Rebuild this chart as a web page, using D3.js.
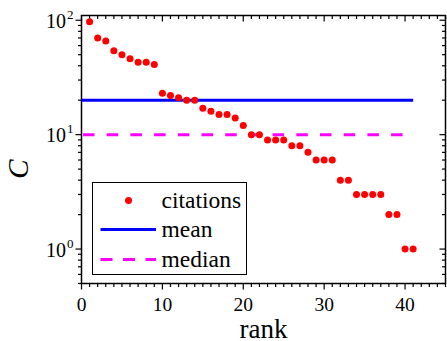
<!DOCTYPE html>
<html>
<head>
<meta charset="utf-8">
<script src="https://cdn.jsdelivr.net/npm/d3@7"></script>
<style>
  html, body { margin: 0; padding: 0; background: #fff; }
  svg { display: block; }
</style>
</head>
<body>
<svg id="chart" width="447" height="341" font-family="'Liberation Serif', serif"></svg>
<script>
// Citation counts ordered by rank
const ranks = d3.range(1, 42);
const citations = [97, 70, 66, 54, 50, 46, 43, 43, 41,
  23, 22, 21, 20, 20, 17, 16, 15, 15, 14, 12,
  10, 10, 9, 9, 9, 8, 8, 7, 6, 6, 6,
  4, 4, 3, 3, 3, 3, 2, 2, 1, 1];
const xTicks = [0, 10, 20, 30, 40];
const yTickExponents = [0, 1, 2];
const legendLabels = ["citations", "mean", "median"];

const meanValue = d3.mean(citations);
const medianValue = d3.median(citations);

const FONT = "Liberation Serif";
const svg = d3.select("#chart");
const m = { left: 81.5, top: 15.5, right: 1.5, bottom: 57.5 };
const W = 447 - m.left - m.right;
const H = 341 - m.top - m.bottom;
const g = svg.append("g").attr("transform", `translate(${m.left},${m.top})`);

const x = d3.scaleLinear().domain([0, 45]).range([0, W]);
const y = d3.scaleLog().domain([0.5, 110]).range([H, 0]);

// minor log ticks: 2..9 within each decade
const minorY = [];
for (let e = -1; e <= 2; e++) {
  for (let k = 2; k <= 9; k++) {
    const v = k * Math.pow(10, e);
    if (v >= 0.5 && v <= 110) minorY.push(v);
  }
}
const minorX = d3.range(0, 46).filter(v => v % 10 !== 0);

const tickGroup = g.append("g").attr("stroke", "#000").attr("stroke-width", 1.2);

// bottom (outward) and top (inward) ticks
xTicks.forEach(v => {
  tickGroup.append("line").attr("x1", x(v)).attr("x2", x(v)).attr("y1", H).attr("y2", H + 6);
  tickGroup.append("line").attr("x1", x(v)).attr("x2", x(v)).attr("y1", 0).attr("y2", 6);
});
minorX.forEach(v => {
  tickGroup.append("line").attr("x1", x(v)).attr("x2", x(v)).attr("y1", H).attr("y2", H + 3.5);
  tickGroup.append("line").attr("x1", x(v)).attr("x2", x(v)).attr("y1", 0).attr("y2", 3.5);
});
// left (outward) and right (inward) ticks
yTickExponents.forEach(e => {
  const v = Math.pow(10, e);
  tickGroup.append("line").attr("x1", -6).attr("x2", 0).attr("y1", y(v)).attr("y2", y(v));
  tickGroup.append("line").attr("x1", W - 6).attr("x2", W).attr("y1", y(v)).attr("y2", y(v));
});
minorY.forEach(v => {
  tickGroup.append("line").attr("x1", -3.5).attr("x2", 0).attr("y1", y(v)).attr("y2", y(v));
  tickGroup.append("line").attr("x1", W - 3.5).attr("x2", W).attr("y1", y(v)).attr("y2", y(v));
});

// frame
g.append("rect").attr("x", 0).attr("y", 0).attr("width", W).attr("height", H)
  .attr("fill", "none").attr("stroke", "#000").attr("stroke-width", 1.5);

// x tick labels
g.append("g").selectAll("text").data(xTicks).join("text")
  .attr("font-family", FONT)
  .attr("x", d => x(d)).attr("y", H + 27)
  .attr("text-anchor", "middle").attr("font-size", 19.5)
  .text(d => d);

// y tick labels as powers of ten
const yl = g.append("g").selectAll("text").data(yTickExponents).join("text")
  .attr("font-family", FONT)
  .attr("x", -8).attr("y", d => y(Math.pow(10, d)) + 7.5)
  .attr("text-anchor", "end").attr("font-size", 20);
yl.append("tspan").text("10");
yl.append("tspan").attr("font-size", 13).attr("dy", -9).attr("dx", 1).text(d => d);

// axis titles
g.append("text").attr("font-family", FONT).attr("x", W / 2).attr("y", H + 54.5)
  .attr("text-anchor", "middle").attr("font-size", 27).text("rank");
svg.append("text").attr("font-family", FONT).attr("transform", "translate(28,169) rotate(-90)")
  .attr("text-anchor", "middle").attr("font-size", 29).attr("font-style", "italic").text("C");

// reference lines
g.append("line").attr("x1", x(0)).attr("x2", x(41))
  .attr("y1", y(meanValue)).attr("y2", y(meanValue))
  .attr("stroke", "#0000ff").attr("stroke-width", 3);
g.append("line").attr("x1", x(0) + 1.5).attr("x2", x(41))
  .attr("y1", y(medianValue)).attr("y2", y(medianValue))
  .attr("stroke", "#ff00ff").attr("stroke-width", 3).attr("stroke-dasharray", "11.5,12.2");

// data points
g.append("g").selectAll("circle").data(ranks).join("circle")
  .attr("cx", d => x(d)).attr("cy", (d, i) => y(citations[i]))
  .attr("r", 3.5).attr("fill", "#ff0000");

// legend
const lg = svg.append("g");
lg.append("rect").attr("x", 92.5).attr("y", 182.5).attr("width", 154).attr("height", 92)
  .attr("fill", "#fff").attr("stroke", "#000").attr("stroke-width", 1);
lg.append("circle").attr("cx", 128.5).attr("cy", 200.5).attr("r", 3.5).attr("fill", "#ff0000");
lg.append("line").attr("x1", 100.5).attr("x2", 156).attr("y1", 229.5).attr("y2", 229.5)
  .attr("stroke", "#0000ff").attr("stroke-width", 3);
lg.append("line").attr("x1", 100.5).attr("x2", 156).attr("y1", 259.5).attr("y2", 259.5)
  .attr("stroke", "#ff00ff").attr("stroke-width", 3).attr("stroke-dasharray", "12,10.5");
lg.selectAll("text.lab").data(legendLabels).join("text")
  .attr("class", "lab").attr("font-family", FONT)
  .attr("x", 161.5).attr("y", (d, i) => 207.5 + i * 29.5)
  .attr("font-size", 23.5).text(d => d);
</script>
</body>
</html>
